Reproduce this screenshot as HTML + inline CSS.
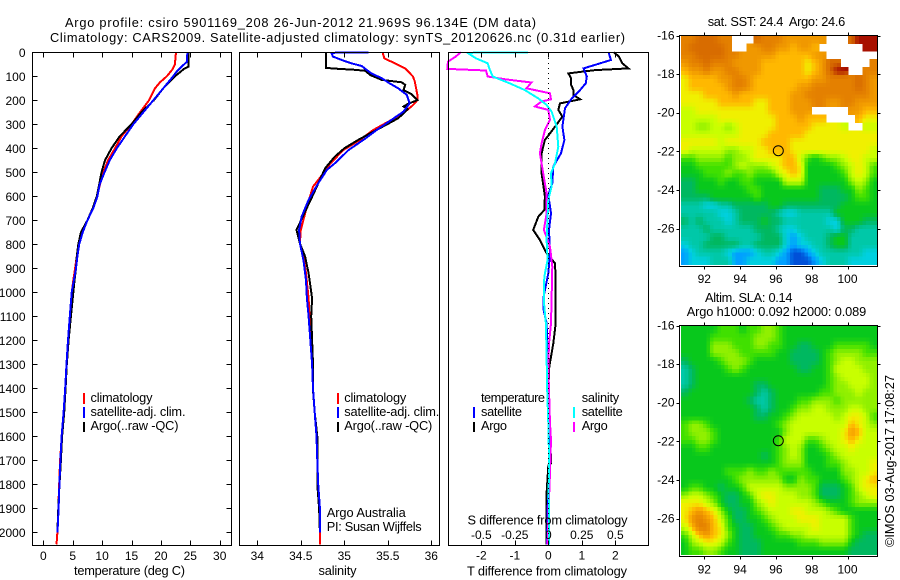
<!DOCTYPE html>
<html>
<head>
<meta charset="utf-8">
<title>Argo profile</title>
<style>
html,body{margin:0;padding:0;background:#fff;}
svg{display:block;}
text{font-family:"Liberation Sans",sans-serif;font-size:12.8px;fill:#000;}
text.tick{font-size:12px;}
</style>
</head>
<body>
<svg id="chart" width="900" height="580" viewBox="0 0 900 580" xmlns="http://www.w3.org/2000/svg">
<rect x="0" y="0" width="900" height="580" fill="#fff"/>
<text x="65" y="27" textLength="471">Argo profile: csiro 5901169_208 26-Jun-2012 21.969S 96.134E (DM data)</text>
<text x="50" y="42" textLength="575">Climatology: CARS2009. Satellite-adjusted climatology: synTS_20120626.nc (0.31d earlier)</text>

<g id="heatmaps"></g>
<g id="profiles"></g>
<g id="axes"></g>

<text x="74" y="575" textLength="111">temperature (deg C)</text>
<text x="318.5" y="575" textLength="38">salinity</text>
<text x="467" y="575.5" textLength="160">T difference from climatology</text>
<text x="467.5" y="524.5" textLength="160">S difference from climatology</text>

<g>
<rect x="83" y="393" width="2" height="11" fill="#f00"/>
<rect x="83" y="407" width="2" height="11" fill="#00f"/>
<rect x="83" y="422" width="2" height="10" fill="#000"/>
<text x="90.5" y="402" textLength="62">climatology</text>
<text x="90.5" y="416" textLength="95">satellite-adj. clim.</text>
<text x="90.5" y="430" textLength="88">Argo(..raw -QC)</text>
</g>
<g>
<rect x="337" y="393" width="2" height="11" fill="#f00"/>
<rect x="337" y="407" width="2" height="11" fill="#00f"/>
<rect x="337" y="422" width="2" height="10" fill="#000"/>
<text x="344.3" y="402" textLength="62">climatology</text>
<text x="344.3" y="416" textLength="95">satellite-adj. clim.</text>
<text x="344.3" y="430" textLength="88">Argo(..raw -QC)</text>
<text x="326.7" y="517" textLength="79">Argo Australia</text>
<text x="326.7" y="531" textLength="95">PI: Susan Wijffels</text>
</g>
<g>
<text x="481" y="402" textLength="64">temperature</text>
<text x="581.7" y="402" textLength="37.5">salinity</text>
<rect x="473" y="407" width="2" height="11" fill="#00f"/>
<rect x="473" y="422" width="2" height="10" fill="#000"/>
<rect x="573" y="407" width="2" height="11" fill="#0ff"/>
<rect x="573" y="422" width="2" height="10" fill="#f0f"/>
<text x="481" y="416" textLength="41">satellite</text>
<text x="481" y="430" textLength="26">Argo</text>
<text x="581.7" y="416" textLength="41">satellite</text>
<text x="581.7" y="430" textLength="26">Argo</text>
</g>

<text x="707.7" y="26" textLength="137.5" xml:space="preserve">sat. SST: 24.4  Argo: 24.6</text>
<text x="705" y="302" textLength="87.5">Altim. SLA: 0.14</text>
<text x="686.7" y="316" textLength="179.5">Argo h1000: 0.092 h2000: 0.089</text>
<text transform="translate(894 547) rotate(-90)" x="0" y="0" textLength="172">©IMOS 03-Aug-2017 17:08:27</text>
</svg>

<script>
const N = null;

/* ---------- temperature panel ---------- */
const tempClimDepths = [0,30,50,70,100,125,150,200,250,300,350,400,450,500,600,650,700,750,800,850,900,950,1000,1100,1200,1300,1400,1500,1600,1700,1800,1900,2000,2050];
const tempClimValues = [22.57,22.45,22.4,22.0,21.0,19.85,19.0,18.0,16.45,15.0,13.3,12.2,11.0,10.2,9.1,8.4,7.5,6.5,6.0,5.7,5.4,5.1,4.85,4.5,4.2,3.95,3.75,3.5,3.15,2.85,2.7,2.55,2.4,2.25];
const tempArgoDepths = [0,60,68,100,150,200,250,300,350,400,450,500,550,600,650,700,750,800,850,900,950,1000,1100,1200,1300,1400,1500,1600,1700,1800,1900,2000];
const tempArgoValues = [24.66,24.66,24.0,22.4,20.4,18.8,16.7,15.0,13.0,11.6,10.5,9.9,9.5,9.1,8.4,7.5,6.4,5.95,5.7,5.56,5.3,5.1,4.7,4.3,4.0,3.8,3.55,3.2,3.0,2.75,2.55,2.4];
const tempSatDepths = [0,40,60,80,100,150,200,250,300,350,400,450,500,550,600,650,700,750,800,850,900,950,1000,1100,1200,1300,1400,1500,1600,1700,1800,1900,2000];
const tempSatValues = [24.5,24.4,23.5,22.7,22.1,20.4,18.7,17.0,15.3,13.9,12.5,11.3,10.4,9.6,9.2,8.5,7.5,6.7,6.1,5.8,5.56,5.2,4.83,4.5,4.2,3.95,3.72,3.45,3.12,2.9,2.73,2.6,2.42];

/* ---------- salinity panel ---------- */
const salClimDepths = [0,25,46,67,101,122,178,199,220,247,282,324,365,407,463,504,560,643,740,796,851,921,1025,1100,1300,1400,1500,1600,1700,1800,1900,2000,2050];
const salClimValues = [35.44,35.46,35.58,35.70,35.79,35.81,35.84,35.84,35.79,35.70,35.54,35.33,35.18,34.99,34.84,34.76,34.64,34.57,34.50,34.49,34.53,34.56,34.59,34.60,34.63,34.64,34.66,34.68,34.69,34.70,34.71,34.72,34.72];
const salArgoDepths = [0,65,68,73,77,95,115,125,136,157,174,199,215,226,237,275,312,337,365,400,435,483,594,740,796,851,921,1025,1100,1300,1407,1500,1600,1700,1800,1900,2000];
const salArgoValues = [34.79,34.79,34.89,35.12,35.24,35.30,35.43,35.66,35.70,35.68,35.77,35.84,35.73,35.68,35.73,35.62,35.43,35.30,35.16,35.00,34.89,34.78,34.64,34.45,34.49,34.55,34.59,34.63,34.62,34.64,34.64,34.66,34.69,34.69,34.69,34.71,34.72];
const salSatDepths = [0,2,18,32,46,57,74,88,108,129,150,178,213,247,282,324,365,407,463,490,546,615,684,740,796,865,949,1025,1100,1300,1400,1500,1600,1700,1800,1900,2000];
const salSatValues = [35.28,34.85,34.87,34.97,35.08,35.20,35.26,35.31,35.43,35.52,35.62,35.72,35.75,35.68,35.54,35.37,35.22,35.05,34.89,34.80,34.70,34.59,34.51,34.48,34.49,34.53,34.56,34.57,34.59,34.63,34.64,34.66,34.68,34.69,34.70,34.72,34.72];

/* ---------- difference panel ---------- */
const diffTArgoDepths = [0,18,46,67,74,81,88,108,136,157,178,196,213,240,268,310,338,365,421,504,601,657,685,740,782,837,879,949,1032,1129,1213,1310,1407,1546,1712,1722,1837,2050];
const diffTArgoValues = [1.96,2.11,2.21,2.39,1.41,1.0,0.6,0.68,0.68,0.75,0.75,0.95,0.35,0.3,0.42,0.2,0.05,-0.1,-0.2,-0.2,-0.1,-0.12,-0.3,-0.45,-0.25,-0.05,0.2,0.22,0.22,0.22,0.15,0.03,0,0.05,0.08,0,-0.05,-0.05];
const diffTSatDepths = [0,32,46,67,101,129,157,192,233,310,365,421,476,546,594,671,740,837,921,1025,1073,1129,1268,1407,1546,1685,1781,1900,2050];
const diffTSatValues = [1.8,1.87,1.55,1.05,1.15,1.12,0.95,0.7,0.5,0.42,0.48,0.38,0.15,0.12,0,0.08,0.02,0.05,0,-0.15,-0.14,-0.05,-0.02,0,0.02,0.05,0.02,-0.02,-0.04];
const diffSArgoDepths = [0,18,39,69,76,101,112,126,150,171,196,205,226,240,282,324,379,421,504,587,671,740,810,893,1025,1129,1213,1310,1546,1615,1823,1850,2050];
const diffSArgoValues = [-0.653,-0.691,-0.749,-0.754,-0.465,-0.452,-0.327,-0.126,-0.163,0.013,0.02,-0.05,-0.1,0,0.013,-0.025,-0.05,-0.063,-0.038,-0.013,-0.013,-0.033,0.013,0.03,0.025,0.02,0.005,0,0.013,0.02,0.008,0.005,-0.005];
const diffSSatDepths = [0,2,25,46,67,101,129,157,192,219,247,310,393,463,504,560,615,684,782,865,935,1025,1060,1129,1268,1407,1546,1685,1823,2050];
const diffSSatValues = [-0.151,-0.603,-0.54,-0.452,-0.44,-0.415,-0.289,-0.176,-0.075,-0.013,0.025,0.063,0.075,0.05,0.02,0.025,0,-0.005,-0.013,-0.005,-0.03,-0.033,-0.03,-0.018,-0.013,-0.008,0,0.005,0.003,0.005];

/* ---------- tick labels ---------- */
const depthTicks = [0,100,200,300,400,500,600,700,800,900,1000,1100,1200,1300,1400,1500,1600,1700,1800,1900,2000];
const tempTicks = [0,5,10,15,20,25,30];
const salTicks = [34,34.5,35,35.5,36];
const diffTTicks = [-2,-1,0,1,2];
const diffSTicks = [-0.5,-0.25,0,0.25,0.5];
const lonTicks = [92,94,96,98,100];
const latTicks = [-16,-18,-20,-22,-24,-26];

/* ---------- map colour levels ---------- */
const levelColors = ['#0050d8','#00a0ff','#00d0e0','#00c8a8','#00b860','#08c81c','#40e000','#90f000','#c8ff00','#f0f000','#ffb800','#f09800','#e48000','#d86c00','#a81000'];

/* ---------- Argo float position ---------- */
const floatLon = 96.134;
const floatLat = -21.969;

/* ---------- sea surface temperature map, colour level per cell ---------- */
const sstGrid = [
[12,12,13,13,13,12,12,N,N,N,13,12,12,12,11,11,11,11,11,11,N,N,N,13,14,14,14],
[12,13,13,13,13,13,12,N,N,11,11,12,12,11,11,10,11,11,10,N,N,N,N,N,N,14,14],
[12,12,13,13,13,13,12,12,11,11,11,11,11,10,10,10,10,10,11,11,N,N,N,N,N,N,N],
[11,12,12,13,12,12,12,11,11,11,11,10,10,10,10,10,10,9,10,11,13,13,N,N,N,N,12],
[10,11,11,12,11,11,12,12,11,11,11,10,10,10,10,10,10,9,10,11,13,14,14,N,N,12,12],
[9,10,10,10,10,11,11,12,12,11,10,10,10,10,10,10,10,10,11,11,12,12,12,12,13,12,11],
[9,10,10,10,10,10,11,12,12,11,10,10,10,10,10,10,11,11,12,12,12,12,12,12,13,12,11],
[9,9,9,10,10,10,10,11,10,10,10,10,10,10,10,11,11,12,12,12,12,12,12,12,12,12,11],
[9,9,9,9,9,10,10,10,10,10,9,9,10,10,10,11,11,11,12,12,11,11,12,12,11,11,11],
[8,8,9,9,9,9,9,9,9,9,9,9,10,10,10,11,11,11,N,N,N,N,N,11,11,10,10],
[8,8,8,8,8,9,9,9,9,9,9,9,9,10,10,10,11,10,10,10,N,N,N,N,10,9,9],
[8,8,7,7,8,8,7,8,9,9,9,9,9,10,10,10,10,10,9,9,9,9,8,N,N,8,8],
[8,8,8,8,8,8,8,8,9,9,9,9,10,10,10,10,10,9,9,9,9,9,9,9,9,9,9],
[9,9,9,9,9,8,9,9,9,9,9,10,10,10,10,9,9,9,9,9,9,9,9,9,9,9,9],
[9,8,8,8,8,8,7,7,8,8,9,9,10,10,10,9,9,9,9,9,9,9,9,9,9,9,8],
[6,6,7,7,7,7,6,7,7,8,9,9,9,9,10,10,8,6,5,6,7,7,8,9,9,8,8],
[5,5,6,6,6,6,6,7,8,7,7,7,8,9,10,10,9,5,5,5,5,6,7,8,9,8,6],
[5,5,5,6,6,6,7,6,6,7,6,6,6,8,9,10,9,5,5,5,5,5,6,8,9,8,6],
[4,4,5,5,5,6,5,5,6,6,5,5,5,5,8,8,8,5,5,5,5,5,5,7,8,7,5],
[4,4,5,5,5,5,5,5,5,6,6,5,5,5,5,5,5,5,5,4,4,4,5,5,7,6,5],
[4,4,4,4,5,5,5,5,5,5,6,5,5,5,5,5,5,5,5,4,4,4,4,5,6,6,5],
[3,3,3,2,2,3,3,4,4,4,4,4,5,5,4,4,4,4,4,4,4,4,5,5,5,5,5],
[3,3,3,3,3,2,2,3,4,4,4,4,4,3,2,2,3,3,3,3,3,5,5,5,5,5,5],
[4,3,4,3,3,3,2,3,4,4,4,5,4,4,3,3,3,3,3,3,2,2,5,5,5,4,4],
[3,3,3,4,3,3,3,3,3,3,4,4,4,3,2,2,3,3,3,3,3,2,4,4,3,3,3],
[3,3,3,3,4,4,3,3,3,3,3,4,4,4,2,1,2,3,3,3,4,5,5,3,3,3,3],
[2,3,3,4,4,4,4,4,3,3,4,4,4,4,2,1,2,2,3,3,4,5,5,3,3,3,3],
[1,2,3,3,3,3,2,1,1,1,2,3,3,2,1,0,0,1,2,3,3,3,3,3,3,2,2],
[1,2,2,2,3,3,3,1,1,2,2,2,2,1,1,0,0,0,1,2,3,3,3,2,2,2,2]
];

/* ---------- sea level anomaly map, colour level per cell ---------- */
const slaGrid = [
[5,5,5,5,5,6,6,6,5,6,6,7,7,6,5,5,5,5,5,5,5,5,5,5,5,5,5],
[5,5,5,5,6,6,6,6,6,6,7,7,7,6,5,5,5,5,5,5,5,5,5,5,5,5,5],
[5,5,5,5,7,7,7,6,6,6,7,7,6,6,5,5,4,4,5,5,5,6,6,6,6,6,5],
[5,5,5,5,7,7,7,7,6,6,6,6,6,5,5,4,4,4,4,5,6,7,7,7,7,6,6],
[4,5,5,5,5,6,7,7,7,6,5,5,5,5,5,4,4,4,4,5,6,7,8,8,7,7,7],
[3,4,5,5,5,5,6,7,6,5,5,5,5,5,5,5,4,4,5,5,6,8,8,8,8,7,7],
[3,4,5,5,5,5,5,5,5,5,5,5,5,5,5,5,5,5,5,5,6,7,8,8,8,8,7],
[3,4,5,5,5,5,5,5,5,5,4,4,5,5,5,5,5,5,5,5,6,7,7,8,8,8,7],
[4,5,5,5,5,5,5,5,5,5,4,3,4,5,5,5,5,5,5,6,6,7,7,7,8,7,7],
[5,5,5,5,5,5,5,5,5,4,3,3,4,5,5,5,6,6,7,7,7,6,7,7,7,7,7],
[5,5,5,5,5,5,5,5,5,5,4,3,4,5,5,6,7,7,8,8,7,7,7,8,8,7,7],
[5,5,5,5,5,5,5,5,5,5,4,4,5,5,6,7,8,8,8,8,8,7,8,9,9,8,6],
[6,7,7,6,5,5,5,5,5,5,5,5,5,6,7,8,8,8,8,8,8,8,8,10,9,8,7],
[6,7,7,7,6,5,5,5,5,5,5,5,5,5,7,8,8,8,8,8,8,8,9,11,10,8,8],
[6,6,7,7,6,5,5,5,5,5,5,5,5,6,8,8,8,6,6,7,8,8,9,10,9,8,8],
[5,5,6,6,5,5,5,5,5,5,5,5,5,6,7,8,7,5,5,6,7,8,8,9,8,8,8],
[5,5,5,5,5,5,5,5,5,5,5,4,5,6,7,8,7,5,5,5,6,7,8,8,8,8,8],
[5,5,5,5,5,5,5,5,5,5,5,5,5,6,7,7,7,5,5,5,6,6,7,8,8,8,9],
[5,5,5,5,5,5,6,6,6,7,6,6,7,6,6,6,6,6,5,5,5,5,7,7,8,8,9],
[5,5,5,5,5,5,5,6,7,7,7,7,7,7,5,5,7,6,6,5,5,5,6,7,8,9,10],
[5,6,6,5,5,4,5,5,6,8,8,8,8,8,7,7,7,7,6,4,4,4,5,6,8,9,9],
[7,8,8,7,6,5,4,4,5,6,8,9,9,8,8,8,7,7,6,4,4,4,5,6,7,8,9],
[9,9,9,8,7,5,4,4,5,5,7,8,9,8,8,8,8,8,7,6,5,5,5,6,7,7,7],
[9,10,11,10,9,7,5,4,4,5,6,7,8,8,8,9,9,8,8,8,7,6,5,5,5,5,5],
[9,11,12,11,10,8,6,4,4,5,5,6,7,8,8,8,9,9,9,8,8,8,8,6,5,5,5],
[8,10,12,12,10,9,6,5,4,4,5,5,6,7,8,8,8,8,9,8,8,8,8,6,5,5,5],
[6,8,10,11,10,9,7,5,4,4,5,5,5,6,6,7,7,8,8,8,8,8,8,6,5,4,4],
[5,7,8,9,9,8,6,5,4,4,4,5,5,5,5,5,6,6,6,7,7,7,7,5,4,4,4],
[5,6,6,7,7,6,5,5,4,4,4,5,5,5,5,5,5,5,5,5,5,5,5,4,4,4,4]
];

/* ---------- axis functions ---------- */
const yDepth = d => 52.3 + 0.24 * d;
const xTemp = v => 43.3 + 5.88 * v;
const xSal = v => 257.3 + 87 * (v - 34);
const xDiffT = v => 548.3 + 33.5 * v;
const xDiffS = v => 548.3 + 134 * v;
const xLon = v => 704.3 + 17.9 * (v - 92);
const yLatTop = v => 35.5 + 19.3 * (-16 - v);
const yLatBottom = v => 325.5 + 19.3 * (-16 - v);

const SVGNS = 'http://www.w3.org/2000/svg';
function make(parent, tag, attrs, content) {
  const el = document.createElementNS(SVGNS, tag);
  for (const k in attrs) el.setAttribute(k, attrs[k]);
  if (content !== undefined) el.textContent = content;
  parent.appendChild(el);
  return el;
}

const profiles = document.getElementById('profiles');
const axes = document.getElementById('axes');
const heatmaps = document.getElementById('heatmaps');

function drawLine(name, depths, values, xFn, color) {
  const pts = depths.map((d, i) => xFn(values[i]).toFixed(1) + ',' + yDepth(d).toFixed(1)).join(' ');
  const el = make(profiles, 'polyline', {points: pts, fill: 'none', stroke: color, 'stroke-width': 2, 'shape-rendering': 'crispEdges'});
  
  
}

drawLine('temperature-climatology-line', tempClimDepths, tempClimValues, xTemp, '#f00');
drawLine('temperature-argo-line', tempArgoDepths, tempArgoValues, xTemp, '#000');
drawLine('temperature-satellite-line', tempSatDepths, tempSatValues, xTemp, '#00f');
drawLine('salinity-climatology-line', salClimDepths, salClimValues, xSal, '#f00');
drawLine('salinity-argo-line', salArgoDepths, salArgoValues, xSal, '#000');
drawLine('salinity-satellite-line', salSatDepths, salSatValues, xSal, '#00f');
drawLine('t-difference-argo-line', diffTArgoDepths, diffTArgoValues, xDiffT, '#000');
drawLine('t-difference-satellite-line', diffTSatDepths, diffTSatValues, xDiffT, '#00f');
drawLine('s-difference-argo-line', diffSArgoDepths, diffSArgoValues, xDiffS, '#f0f');
drawLine('s-difference-satellite-line', diffSSatDepths, diffSSatValues, xDiffS, '#0ff');

function drawFrame(name, x0, y0, x1, y1) {
  const el = make(axes, 'rect', {x: x0, y: y0, width: x1 - x0, height: y1 - y0, fill: 'none', stroke: '#000', 'stroke-width': 1, 'shape-rendering': 'crispEdges'});
  
  
}

function drawTick(name, x1, y1, x2, y2) {
  const el = make(axes, 'line', {x1: x1, y1: y1, x2: x2, y2: y2, stroke: '#000', 'stroke-width': 1, 'shape-rendering': 'crispEdges'});
  
  
}

function drawLabel(name, x, y, anchor, str) {
  const el = make(axes, 'text', {x: x, y: y, 'text-anchor': anchor, class: 'tick'}, str);
  
  
}

const plotTop = 52.5, plotBottom = 545.5;

function drawProfileAxes(prefix, x0, x1, ticks, xFn, labelY) {
  drawFrame(prefix + '-frame', x0, plotTop, x1, plotBottom);
  ticks.forEach(t => {
    const x = Math.round(xFn(t)) + 0.5;
    drawTick(prefix + '-top-tick', x, plotTop, x, plotTop + 5);
    drawTick(prefix + '-bottom-tick', x, plotBottom, x, plotBottom - 5);
    drawLabel(prefix + '-tick-label', xFn(t), labelY, 'middle', String(t));
  });
}

drawProfileAxes('temperature-axis', 32.5, 231.5, tempTicks, xTemp, 560);
drawProfileAxes('salinity-axis', 239.5, 439.5, salTicks, xSal, 560);
drawProfileAxes('t-difference-axis', 448.5, 648.5, diffTTicks, xDiffT, 559.5);
diffSTicks.forEach(t => {
  drawLabel('s-difference-tick-label', xDiffS(t), 539, 'middle', String(t));
});

depthTicks.forEach(d => {
  const y = Math.round(yDepth(d)) + 0.5;
  drawTick('depth-left-tick', 32.5, y, 37.5, y);
  drawTick('depth-right-tick', 231.5, y, 226.5, y);
  drawLabel('depth-tick-label', 25.5, yDepth(d) + 4.5, 'end', String(d));
});

for (let y = 53; y < 545; y += 5) {
  drawTick('zero-difference-dot', 548.5, y, 548.5, y + 1);
}

function hexToRgb(h) {
  return [parseInt(h.slice(1, 3), 16), parseInt(h.slice(3, 5), 16), parseInt(h.slice(5, 7), 16)];
}

function levelToColor(level) {
  const i = Math.max(0, Math.min(levelColors.length - 2, Math.floor(level)));
  const f = Math.max(0, Math.min(1, level - i));
  const a = hexToRgb(levelColors[i]), b = hexToRgb(levelColors[i + 1]);
  return 'rgb(' + a.map((v, k) => Math.round(v + (b[k] - v) * f)).join(',') + ')';
}

/* Bilinear sample of a map grid at fractional cell coordinates, skipping missing cells. */
function sampleGrid(grid, gx, gy) {
  const rows = grid.length, cols = grid[0].length;
  const nr = Math.max(0, Math.min(rows - 1, Math.round(gy)));
  const nc = Math.max(0, Math.min(cols - 1, Math.round(gx)));
  if (grid[nr][nc] === null) return null;
  const c0 = Math.floor(gx), r0 = Math.floor(gy);
  const fx = gx - c0, fy = gy - r0;
  let sum = 0, weight = 0;
  [[r0, c0, (1 - fx) * (1 - fy)], [r0, c0 + 1, fx * (1 - fy)], [r0 + 1, c0, (1 - fx) * fy], [r0 + 1, c0 + 1, fx * fy]].forEach(p => {
    const r = Math.max(0, Math.min(rows - 1, p[0]));
    const c = Math.max(0, Math.min(cols - 1, p[1]));
    const v = grid[r][c];
    if (v !== null) { sum += v * p[2]; weight += p[2]; }
  });
  return weight > 0 ? sum / weight : null;
}

function drawMap(prefix, grid, yLat, frameTop, frameBottom, labelY) {
  const rows = grid.length, cols = grid[0].length;
  const imgLeft = 681, imgRight = 877, imgTop = frameTop, imgBottom = frameBottom - 2;
  const sub = 2;
  const nCols = cols * sub, nRows = rows * sub;
  const cw = (imgRight - imgLeft) / nCols, ch = (imgBottom - imgTop) / nRows;
  for (let r = 0; r < nRows; r++) {
    for (let c = 0; c < nCols; c++) {
      const level = sampleGrid(grid, (c + 0.5) / sub - 0.5, (r + 0.5) / sub - 0.5);
      if (level === null) continue;
      const cell = make(heatmaps, 'rect', {
        x: (imgLeft + c * cw).toFixed(2), y: (imgTop + r * ch).toFixed(2),
        width: (cw + 0.4).toFixed(2), height: (ch + 0.4).toFixed(2),
        fill: levelToColor(level), 'shape-rendering': 'crispEdges'
      });
      
      
    }
  }
  drawFrame(prefix + '-frame', 679.5, frameTop, 877.5, frameBottom);
  lonTicks.forEach(t => {
    const x = Math.round(xLon(t)) + 0.5;
    drawTick(prefix + '-top-tick', x, frameTop, x, frameTop - 3);
    drawTick(prefix + '-bottom-tick', x, frameBottom, x, frameBottom + 3);
    drawLabel(prefix + '-lon-label', xLon(t), labelY, 'middle', String(t));
  });
  latTicks.forEach(t => {
    const y = Math.round(yLat(t)) + 0.5;
    drawTick(prefix + '-left-tick', 679.5, y, 676.5, y);
    drawTick(prefix + '-right-tick', 877.5, y, 880.5, y);
    drawLabel(prefix + '-lat-label', 674.5, yLat(t) + 4, 'end', String(t));
  });
  const marker = make(axes, 'circle', {cx: xLon(floatLon), cy: yLat(floatLat), r: 5, fill: 'none', stroke: '#000', 'stroke-width': 1});
  
  
}

drawMap('sst-map', sstGrid, yLatTop, 35.5, 266.5, 283);
drawMap('sla-map', slaGrid, yLatBottom, 325.5, 556.5, 573.5);
</script>
</body>
</html>
